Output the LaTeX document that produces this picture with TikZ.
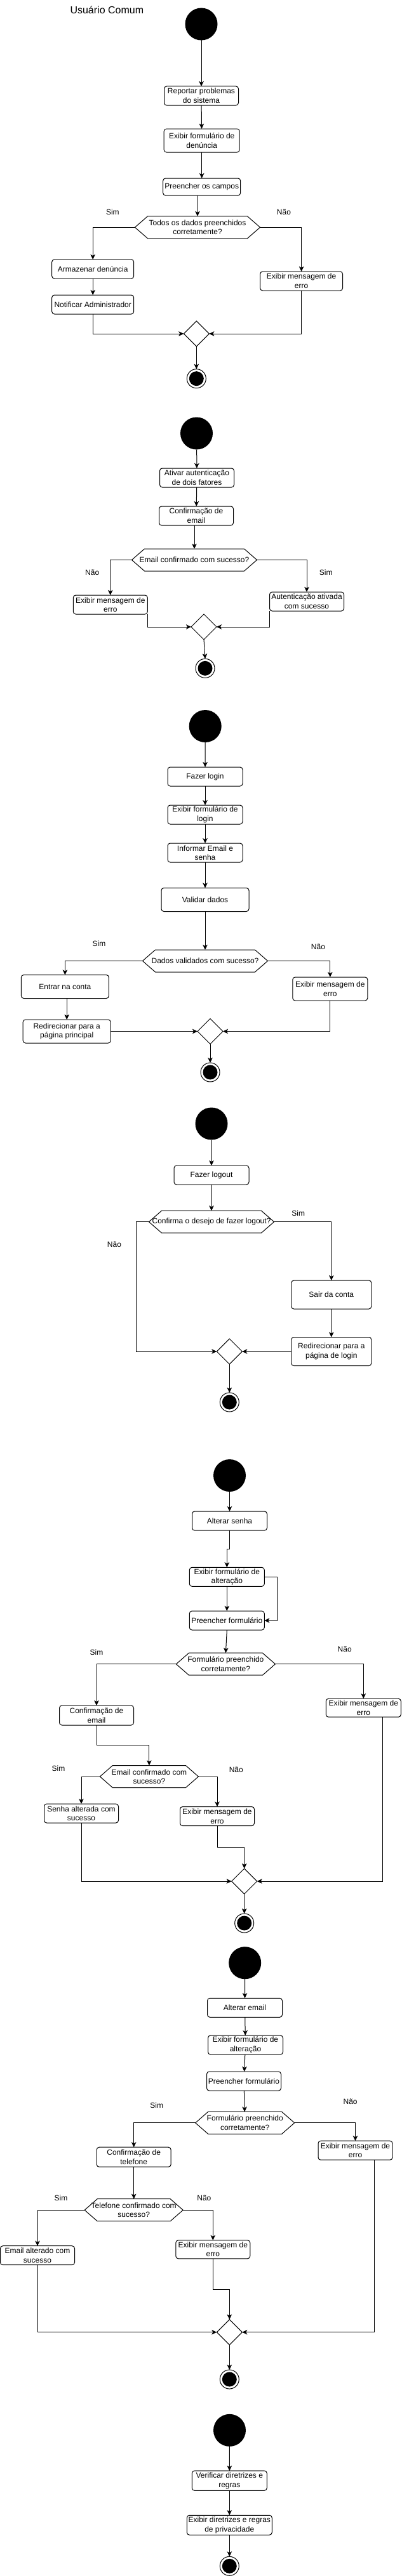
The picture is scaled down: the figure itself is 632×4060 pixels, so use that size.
\documentclass[tikz,border=0pt]{standalone}
\usepackage{fontspec}
\setmainfont{Liberation Sans}
\usetikzlibrary{arrows.meta,shapes.geometric}
\newcommand\drawhex[1]{\draw[line] (#1.west) -- ([xshift=20pt]#1.north west) -- ([xshift=-20pt]#1.north east) -- (#1.east) -- ([xshift=-20pt]#1.south east) -- ([xshift=20pt]#1.south west) -- cycle;}
\begin{document}
\begin{tikzpicture}[x=1pt,y=-1pt,
  every node/.style={font=\fontsize{12}{14.6}\selectfont},
  box/.style={draw, rounded corners=4pt, align=center, inner sep=0pt, outer sep=0pt, line width=1pt},
  hexa/.style={align=center, inner sep=0pt, outer sep=0pt, minimum width=197pt, minimum height=35pt},
  merge/.style={diamond, draw, line width=1pt, minimum width=40pt, minimum height=40pt, inner sep=0pt, outer sep=0pt},
  startnode/.style={circle, fill=black, minimum size=51pt, inner sep=0pt, outer sep=0pt},
  endnode/.style={circle, draw, line width=1pt, minimum size=30pt, inner sep=0pt, outer sep=0pt,
    path picture={\fill[black] (path picture bounding box.center) circle (11.5pt);}},
  lbl/.style={inner sep=0pt},
  line/.style={line width=1pt},
  arr/.style={line width=1pt, -{Stealth[length=8pt,width=7.5pt,inset=2pt]}},
]
\useasboundingbox (0,0) rectangle (632,4060);
\fill[white] (0,0) rectangle (632,4060);

\node[anchor=west, font=\fontsize{16}{19}\selectfont] (title) at (107,16) {Usuário Comum};

% ---------- 1: Reportar problemas
\node[startnode] (s1) at (317,38) {};
\node[box, minimum width=117pt, minimum height=30pt] (b1) at (317,151) {Reportar problemas\\do sistema};
\node[box, minimum width=119pt, minimum height=37pt] (b2) at (317.7,221.5) {Exibir formulário de\\denúncia};
\node[box, minimum width=122pt, minimum height=27pt] (b3) at (317.7,294.5) {Preencher os campos};
\node[hexa] (d1) at (311,358.3) {Todos os dados preenchidos\\corretamente?};
\drawhex{d1}
\node[lbl] (l1a) at (177.4,334) {Sim};
\node[lbl] (l1b) at (447,334) {Não};
\node[box, minimum width=129pt, minimum height=30pt] (a1) at (146.2,424) {Armazenar denúncia};
\node[box, minimum width=129pt, minimum height=30pt] (a2) at (146.2,480) {Notificar Administrador};
\node[box, minimum width=130pt, minimum height=30pt] (e1) at (474.6,443) {Exibir mensagem de\\erro};
\node[merge] (m1) at (309.3,526) {};
\node[endnode] (t1) at (309.3,596.7) {};
\draw[arr] (s1) -- (b1);
\draw[arr] (b1) -- (b2);
\draw[arr] (b2) -- (b3);
\draw[arr] (b3.south -| d1.north) -- (d1.north);
\draw[arr] (d1.west) -| (a1.north);
\draw[arr] (a1) -- (a2);
\draw[arr] (d1.east) -| (e1.north);
\draw[arr] (a2.south) |- (m1.west);
\draw[arr] (e1.south) |- (m1.east);
\draw[arr] (m1.south) -- (t1.north);

% ---------- 2: Autenticacao
\node[startnode] (s2) at (309.5,683) {};
\node[box, minimum width=117pt, minimum height=30pt] (c1) at (310,753) {Ativar autenticação\\de dois fatores};
\node[box, minimum width=117pt, minimum height=30pt] (c2) at (309,813) {Confirmação de\\email};
\node[hexa] (d2) at (306,882.5) {Email confirmado com sucesso?};
\drawhex{d2}
\node[lbl] (l2a) at (145.2,902.7) {Não};
\node[lbl] (l2b) at (513.3,902.7) {Sim};
\node[box, minimum width=117pt, minimum height=30pt] (e2) at (173.8,953) {Exibir mensagem de\\erro};
\node[box, minimum width=117pt, minimum height=30pt] (c3) at (483,948) {Autenticação ativada\\com sucesso};
\node[merge] (m2) at (321,988) {};
\node[endnode] (t2) at (323,1053.3) {};
\draw[arr] (s2) -- (c1);
\draw[arr] (c1) -- (c2);
\draw[arr] (c2.south -| d2.north) -- (d2.north);
\draw[arr] (d2.west) -| (e2.north);
\draw[arr] (d2.east) -| (c3.north);
\draw[arr] (e2.south east) |- (m2.west);
\draw[arr] (c3.south west) |- (m2.east);
\draw[arr] (m2.south) -- (t2.north);

% ---------- 3: Login
\node[startnode] (s3) at (323.2,1144.5) {};
\node[box, minimum width=118pt, minimum height=30pt] (f1) at (323,1224) {Fazer login};
\node[box, minimum width=118pt, minimum height=30pt] (f2) at (323,1284) {Exibir formulário de\\login};
\node[box, minimum width=118pt, minimum height=30pt] (f3) at (323,1344) {Informar Email e\\senha};
\node[box, minimum width=138pt, minimum height=37pt] (f4) at (323,1418) {Validar dados};
\node[hexa] (d3) at (323,1514.5) {Dados validados com sucesso?};
\drawhex{d3}
\node[lbl] (l3a) at (156,1487) {Sim};
\node[lbl] (l3b) at (501,1492) {Não};
\node[box, minimum width=138pt, minimum height=37pt] (f5) at (102.4,1555) {Entrar na conta};
\node[box, minimum width=138pt, minimum height=37pt] (f6) at (105.2,1625.5) {Redirecionar para a\\página principal};
\node[box, minimum width=118pt, minimum height=37pt] (e3) at (519.8,1558.5) {Exibir mensagem de\\erro};
\node[merge] (m3) at (331,1625.5) {};
\node[endnode] (t3) at (331,1690) {};
\draw[arr] (s3) -- (f1);
\draw[arr] (f1) -- (f2);
\draw[arr] (f2) -- (f3);
\draw[arr] (f3) -- (f4);
\draw[arr] (f4) -- (d3);
\draw[arr] (d3.west) -| (f5.north);
\draw[arr] (f5.south -| f6.north) -- (f6.north);
\draw[arr] (d3.east) -| (e3.north);
\draw[arr] (f6.east) -- (m3.west);
\draw[arr] (e3.south) |- (m3.east);
\draw[arr] (m3.south) -- (t3.north);

% ---------- 4: Logout
\node[startnode] (s4) at (333,1771) {};
\node[box, minimum width=118pt, minimum height=30pt] (g1) at (333,1852) {Fazer logout};
\node[hexa] (d4) at (333,1925.7) {Confirma o desejo de fazer logout?};
\drawhex{d4}
\node[lbl] (l4a) at (180,1961.7) {Não};
\node[lbl] (l4b) at (469.8,1911.7) {Sim};
\node[box, minimum width=126pt, minimum height=45pt] (g2) at (521.8,2040.5) {Sair da conta};
\node[box, minimum width=126pt, minimum height=45pt] (g3) at (521.8,2130) {Redirecionar para a\\página de login};
\node[merge] (m4) at (361.3,2130) {};
\node[endnode] (t4) at (361.3,2210) {};
\draw[arr] (s4) -- (g1);
\draw[arr] (g1) -- (d4);
\draw[arr] (d4.west) -- ++(-20.2,0) |- (m4.west);
\draw[arr] (d4.east) -| (g2.north);
\draw[arr] (g2) -- (g3);
\draw[arr] (g3.west) -- (m4.east);
\draw[arr] (m4.south) -- (t4.north);

% ---------- 5: Alterar senha
\node[startnode] (s5) at (361.5,2325.5) {};
\node[box, minimum width=118pt, minimum height=30pt] (h1) at (361.5,2397) {Alterar senha};
\node[box, minimum width=118pt, minimum height=30pt] (h2) at (357.3,2485.3) {Exibir formulário de\\alteração};
\node[box, minimum width=118pt, minimum height=30pt] (h3) at (357.3,2554) {Preencher formulário};
\node[hexa, minimum width=156pt] (d5) at (355.4,2622.7) {Formulário preenchido\\corretamente?};
\drawhex{d5}
\node[lbl] (l5a) at (152,2604.3) {Sim};
\node[lbl] (l5b) at (542.7,2599.3) {Não};
\node[box, minimum width=117pt, minimum height=31pt] (h4) at (152,2703.5) {Confirmação de\\email};
\node[box, minimum width=118pt, minimum height=29pt] (e5) at (572.3,2691.7) {Exibir mensagem de\\erro};
\node[hexa, minimum width=155pt] (d6) at (234.9,2800) {Email confirmado com\\sucesso?};
\drawhex{d6}
\node[lbl] (l6a) at (92,2787.3) {Sim};
\node[lbl] (l6b) at (371.8,2789.3) {Não};
\node[box, minimum width=117pt, minimum height=30pt] (h5) at (128,2858) {Senha alterada com\\sucesso};
\node[box, minimum width=117pt, minimum height=30pt] (e6) at (342,2862.5) {Exibir mensagem de\\erro};
\node[merge] (m5) at (384.7,2965) {};
\node[endnode] (t5) at (384.7,3031) {};
\draw[arr] (s5) -- (h1);
\draw[arr] (h1.south) -- ++(0,29.7) -| (h2.north);
\draw[arr] (h2) -- (h3);
\draw[arr] (h2.east) -- ++(20.6,0) |- (h3.east);
\draw[arr] (h3.south) -- (d5.north);
\draw[arr] (d5.west) -| (h4.north);
\draw[arr] (d5.east) -| (e5.north);
\draw[arr] (h4.south) -- ++(0,31) -| (d6.north);
\draw[arr] (d6.west) -| (h5.north);
\draw[arr] (d6.east) -| (e6.north);
\draw[arr] (h5.south) |- (m5.west);
\draw[arr] (e6.south) -- ++(0,34) -| (m5.north);
\draw[arr] ([xshift=30.4pt]e5.south) |- (m5.east);
\draw[arr] (m5.south) -- (t5.north);

% ---------- 6: Alterar email
\node[startnode] (s6) at (385.7,3093.7) {};
\node[box, minimum width=118pt, minimum height=30pt] (i1) at (385.5,3164.3) {Alterar email};
\node[box, minimum width=118pt, minimum height=30pt] (i2) at (386.5,3223) {Exibir formulário de\\alteração};
\node[box, minimum width=117pt, minimum height=30pt] (i3) at (384,3280) {Preencher formulário};
\node[hexa, minimum width=156pt] (d7) at (385.7,3345.8) {Formulário preenchido\\corretamente?};
\drawhex{d7}
\node[lbl] (l7a) at (246.8,3317.7) {Sim};
\node[lbl] (l7b) at (551.6,3312.7) {Não};
\node[box, minimum width=117pt, minimum height=31pt] (i4) at (210.7,3399.7) {Confirmação de\\telefone};
\node[box, minimum width=117pt, minimum height=30pt] (e7) at (559.5,3389.2) {Exibir mensagem de\\erro};
\node[hexa, minimum width=155pt] (d8) at (210.7,3483.2) {Telefone confirmado com\\sucesso?};
\drawhex{d8}
\node[lbl] (l8a) at (96,3464.3) {Sim};
\node[lbl] (l8b) at (321.4,3464.3) {Não};
\node[box, minimum width=117pt, minimum height=30pt] (i5) at (59,3554.7) {Email alterado com\\sucesso};
\node[box, minimum width=117pt, minimum height=29pt] (e8) at (335.3,3545.3) {Exibir mensagem de\\erro};
\node[merge] (m6) at (361.3,3675.7) {};
\node[endnode] (t6) at (361.3,3750) {};
\draw[arr] (s6) -- (i1);
\draw[arr] (i1) -- (i2);
\draw[arr] (i2) -- (i3);
\draw[arr] (i3) -- (d7);
\draw[arr] (d7.west) -| (i4.north);
\draw[arr] (d7.east) -| (e7.north);
\draw[arr] (i4.south) -- (d8.north);
\draw[arr] (d8.west) -| (i5.north);
\draw[arr] (d8.east) -| (e8.north);
\draw[arr] (i5.south) |- (m6.west);
\draw[arr] (e8.south) -- ++(0,48.3) -| (m6.north);
\draw[arr] ([xshift=30pt]e7.south) |- (m6.east);
\draw[arr] (m6.south) -- (t6.north);

% ---------- 7: Diretrizes
\node[startnode] (s7) at (361.5,3830.3) {};
\node[box, minimum width=118pt, minimum height=31pt] (j1) at (361.3,3909.7) {Verificar diretrizes e\\regras};
\node[box, minimum width=134pt, minimum height=31pt] (j2) at (361.3,3979.7) {Exibir diretrizes e regras\\de privacidade};
\node[endnode] (t7) at (361.3,4044.3) {};
\draw[arr] (s7) -- (j1);
\draw[arr] (j1) -- (j2);
\draw[arr] (j2) -- (t7);
\end{tikzpicture}
\end{document}
